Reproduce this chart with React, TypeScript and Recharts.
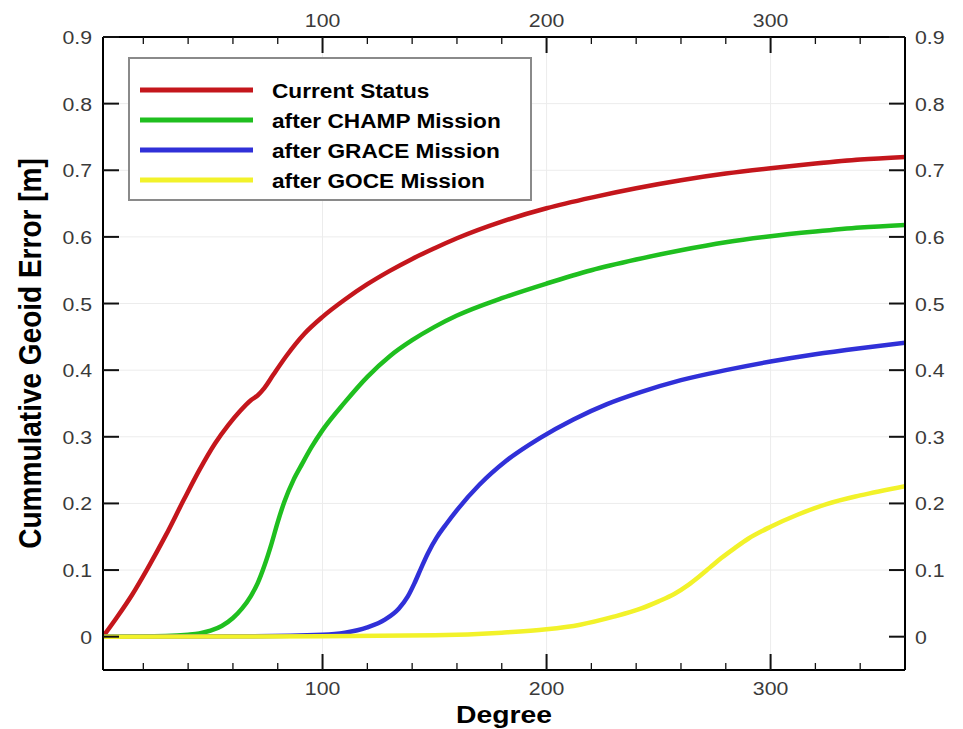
import {
  LineChart,
  Line,
  XAxis,
  YAxis,
  CartesianGrid,
  Legend,
  Label,
} from "recharts";

const redDeg = [2, 8, 15, 22, 30, 38, 45, 52, 58, 63, 68, 71, 74, 78, 84, 92, 100, 110, 120, 130, 140, 150, 160, 180, 200, 220, 240, 260, 280, 300, 320, 340, 360];
const redVal = [0, 0.028, 0.063, 0.103, 0.152, 0.205, 0.25, 0.29, 0.318, 0.338, 0.355, 0.362, 0.373, 0.393, 0.422, 0.455, 0.48, 0.506, 0.529, 0.549, 0.567, 0.583, 0.598, 0.623, 0.643, 0.659, 0.673, 0.685, 0.695, 0.703, 0.71, 0.716, 0.72];

const greenDeg = [2, 30, 40, 45, 50, 55, 60, 64, 68, 71, 74, 77, 80, 83, 87, 91, 95, 100, 110, 120, 130, 140, 150, 160, 180, 200, 220, 240, 260, 280, 300, 320, 340, 360];
const greenVal = [0, 0.001, 0.003, 0.005, 0.009, 0.016, 0.028, 0.042, 0.061, 0.08, 0.106, 0.137, 0.172, 0.203, 0.235, 0.26, 0.284, 0.31, 0.352, 0.39, 0.421, 0.445, 0.465, 0.482, 0.508, 0.53, 0.55, 0.566, 0.58, 0.592, 0.601, 0.608, 0.614, 0.618];

const blueDeg = [2, 60, 100, 110, 120, 128, 134, 138, 141, 144, 147, 151, 155, 160, 170, 182, 197, 212, 227, 242, 260, 280, 300, 320, 340, 360];
const blueVal = [0, 0.0005, 0.003, 0.006, 0.014, 0.026, 0.042, 0.06, 0.08, 0.103, 0.125, 0.149, 0.168, 0.19, 0.228, 0.264, 0.298, 0.326, 0.349, 0.367, 0.385, 0.4, 0.413, 0.424, 0.433, 0.441];

const yellowDeg = [2, 100, 150, 180, 200, 215, 230, 242, 250, 257, 263, 268, 273, 278, 284, 290, 300, 312, 325, 340, 360];
const yellowVal = [0, 0.0005, 0.002, 0.006, 0.011, 0.018, 0.03, 0.042, 0.053, 0.064, 0.077, 0.09, 0.104, 0.118, 0.133, 0.147, 0.165, 0.183, 0.199, 0.212, 0.226];

const seriesNames = ["Current Status", "after CHAMP Mission", "after GRACE Mission", "after GOCE Mission"];
const seriesColors = ["#c4161c", "#1fbf1f", "#3030d8", "#f2f22a"];

const xTicks = [20, 40, 60, 80, 100, 120, 140, 160, 180, 200, 220, 240, 260, 280, 300, 320, 340];
const yTicks = [0, 0.1, 0.2, 0.3, 0.4, 0.5, 0.6, 0.7, 0.8, 0.9];

const toRows = (deg: number[], val: number[]) => deg.map((d, i) => ({ d, v: val[i] }));
const series = [
  toRows(redDeg, redVal),
  toRows(greenDeg, greenVal),
  toRows(blueDeg, blueVal),
  toRows(yellowDeg, yellowVal),
];

const FONT = "'Liberation Sans', Arial, Helvetica, sans-serif";

// the source image is a bit wider than tall, so text gets a horizontal stretch
function SText({ x, y, size, anchor = "middle", weight = "normal", fill = "#000", sx = 1.12, rotate = false, children }: any) {
  return (
    <text
      transform={`translate(${x},${y}) scale(${sx},1)${rotate ? " rotate(-90)" : ""}`}
      textAnchor={anchor}
      fontSize={size}
      fontWeight={weight}
      fill={fill}
      fontFamily={FONT}
    >
      {children}
    </text>
  );
}

const fmtY = (v: number) => (v === 0 ? "0" : v.toFixed(1));

function XTick({ x, y, payload, top }: any) {
  const major = payload.value % 100 === 0;
  const len = major ? 16 : 7;
  const dir = top ? 1 : -1;
  return (
    <g>
      <line x1={x} y1={y} x2={x} y2={y + dir * len} stroke="#111" strokeWidth={major ? 2 : 1.3} />
      {major && (
        <SText x={x} y={top ? y - 10 : y + 25} size={19} fill="#3a3a3a">
          {payload.value}
        </SText>
      )}
    </g>
  );
}

function YTick({ x, y, payload, right }: any) {
  const dir = right ? -1 : 1;
  return (
    <g>
      <line x1={x} y1={y} x2={x + dir * 16} y2={y} stroke="#111" strokeWidth={2} />
      <SText x={right ? x + 10 : x - 11} y={y + 7} size={19} anchor={right ? "start" : "end"} fill="#3a3a3a">
        {fmtY(payload.value)}
      </SText>
    </g>
  );
}

function LegendBox({ payload }: any) {
  // keep the series order, recharts sorts the payload by name
  const items = (payload ?? [])
    .slice()
    .sort((a: any, b: any) => seriesNames.indexOf(a.value) - seriesNames.indexOf(b.value));
  return (
    <div style={{ width: 404, height: 144, boxSizing: "border-box", border: "2px solid #8a8a8a", background: "#fff" }}>
      <svg width={400} height={140} style={{ display: "block" }}>
        {items.map((it: any, i: number) => (
          <g key={it.value}>
            <line x1={10} x2={123} y1={31 + 30 * i} y2={31 + 30 * i} stroke={it.color} strokeWidth={5} />
            <SText x={142} y={39 + 30 * i} size={21} anchor="start" weight="bold" sx={1.08}>
              {it.value}
            </SText>
          </g>
        ))}
      </svg>
    </div>
  );
}

export default function App() {
  return (
    <div style={{ position: "absolute", left: 0, top: 0, width: 963, height: 729, background: "#fff" }}>
      <LineChart width={963} height={729} margin={{ top: 0, right: 0, bottom: 0, left: 0 }}>
        <CartesianGrid
          xAxisId="b"
          yAxisId="l"
          stroke="#ececec"
          verticalValues={[100, 200, 300]}
          horizontalValues={[0.1, 0.2, 0.3, 0.4, 0.5, 0.6, 0.7, 0.8]}
        />
        <XAxis
          xAxisId="b"
          type="number"
          dataKey="d"
          orientation="bottom"
          domain={[2, 360]}
          allowDataOverflow
          ticks={xTicks}
          interval={0}
          height={59}
          tickSize={0}
          tickMargin={0}
          tickLine={false}
          axisLine={{ stroke: "#000", strokeWidth: 2 }}
          tick={<XTick />}
        >
          <Label
            content={({ viewBox }: any) => (
              <SText x={viewBox.x + viewBox.width / 2} y={viewBox.y + 53} size={24} weight="bold" sx={1.18}>
                Degree
              </SText>
            )}
          />
        </XAxis>
        <XAxis
          xAxisId="t"
          type="number"
          dataKey="d"
          orientation="top"
          domain={[2, 360]}
          allowDataOverflow
          ticks={xTicks}
          interval={0}
          height={37}
          tickSize={0}
          tickMargin={0}
          tickLine={false}
          axisLine={{ stroke: "#000", strokeWidth: 2 }}
          tick={<XTick top />}
        />
        <YAxis
          yAxisId="l"
          type="number"
          orientation="left"
          domain={[-0.05, 0.9]}
          allowDataOverflow
          ticks={yTicks}
          interval={0}
          width={103}
          tickSize={0}
          tickMargin={0}
          tickLine={false}
          axisLine={{ stroke: "#000", strokeWidth: 2 }}
          tick={<YTick />}
        >
          <Label
            content={({ viewBox }: any) => (
              <SText x={41} y={viewBox.y + viewBox.height / 2} size={28} weight="bold" rotate>
                Cummulative Geoid Error [m]
              </SText>
            )}
          />
        </YAxis>
        <YAxis
          yAxisId="r"
          type="number"
          orientation="right"
          domain={[-0.05, 0.9]}
          allowDataOverflow
          ticks={yTicks}
          interval={0}
          width={58}
          tickSize={0}
          tickMargin={0}
          tickLine={false}
          axisLine={{ stroke: "#000", strokeWidth: 2 }}
          tick={<YTick right />}
        />
        <Legend
          layout="horizontal"
          verticalAlign="middle"
          align="center"
          wrapperStyle={{ left: 128, top: 57, width: 404, height: 144 }}
          content={<LegendBox />}
        />
        {series.map((rows, i) => (
          <Line
            key={seriesNames[i]}
            xAxisId="b"
            yAxisId="l"
            data={rows}
            dataKey="v"
            name={seriesNames[i]}
            type="monotone"
            stroke={seriesColors[i]}
            strokeWidth={4.5}
            dot={false}
            activeDot={false}
            isAnimationActive={false}
          />
        ))}
      </LineChart>
    </div>
  );
}
